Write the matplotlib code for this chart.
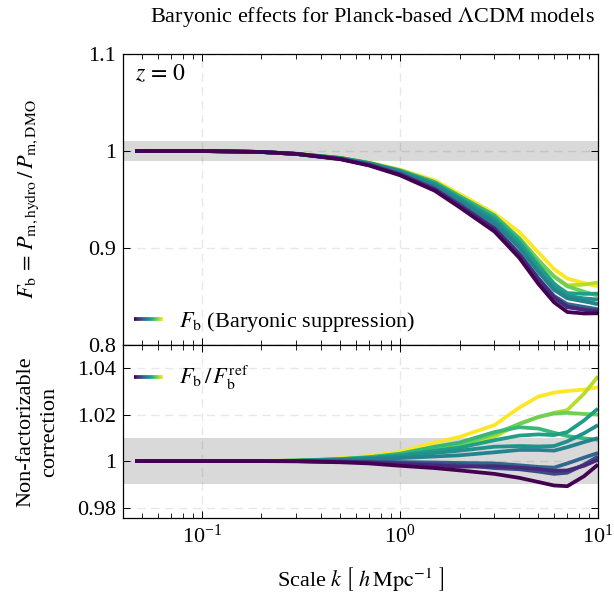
import numpy as np
import matplotlib
matplotlib.use("Agg")
import matplotlib.pyplot as plt
from matplotlib.lines import Line2D
from matplotlib.collections import LineCollection
from matplotlib.legend_handler import HandlerBase
from matplotlib.ticker import FixedLocator, FuncFormatter, NullLocator, LogLocator

plt.rcParams['font.family'] = ['Liberation Serif', 'DejaVu Serif']
plt.rcParams['mathtext.fontset'] = 'stix'

# ---------------- data ----------------
k = [0.046, 0.1, 0.2, 0.3, 0.5, 0.7, 1.0, 1.5, 2.0, 3.0, 4.0, 5.0, 6.0, 7.0, 8.5, 10.0]

# colour positions in viridis for each model
model_c = [0.0, 0.11, 0.22, 0.33, 0.44, 0.5, 0.56, 0.67, 0.78, 0.89, 1.0]

# upper panel: baryonic suppression F_b
fb = [
    [1.000, 1.000, 0.999, 0.997, 0.9915, 0.9850, 0.9750, 0.9590, 0.9420, 0.9170, 0.8900, 0.8630, 0.8440, 0.8340, 0.8325, 0.8327],
    [1.000, 1.000, 0.999, 0.997, 0.9918, 0.9855, 0.9758, 0.9603, 0.9437, 0.9200, 0.8935, 0.8680, 0.8494, 0.8396, 0.8363, 0.8345],
    [1.000, 1.000, 0.999, 0.997, 0.9919, 0.9857, 0.9762, 0.9608, 0.9445, 0.9192, 0.8929, 0.8671, 0.8483, 0.8388, 0.8367, 0.8357],
    [1.000, 1.000, 0.999, 0.997, 0.9920, 0.9858, 0.9766, 0.9614, 0.9452, 0.9211, 0.8944, 0.8688, 0.8506, 0.8422, 0.8393, 0.8369],
    [1.000, 1.000, 0.999, 0.997, 0.9924, 0.9868, 0.9783, 0.9639, 0.9484, 0.9255, 0.9003, 0.8752, 0.8568, 0.8481, 0.8449, 0.8423],
    [1.000, 1.000, 0.999, 0.997, 0.9926, 0.9872, 0.9790, 0.9654, 0.9503, 0.9277, 0.9018, 0.8765, 0.8585, 0.8502, 0.8481, 0.8469],
    [1.000, 1.000, 0.999, 0.997, 0.9928, 0.9874, 0.9794, 0.9663, 0.9515, 0.9303, 0.9059, 0.8810, 0.8626, 0.8535, 0.8527, 0.8529],
    [1.000, 1.000, 0.999, 0.997, 0.9929, 0.9877, 0.9801, 0.9680, 0.9536, 0.9335, 0.9091, 0.8832, 0.8634, 0.8521, 0.8462, 0.8417],
    [1.000, 1.000, 0.999, 0.997, 0.9928, 0.9876, 0.9797, 0.9673, 0.9524, 0.9329, 0.9103, 0.8875, 0.8705, 0.8605, 0.8550, 0.8507],
    [1.000, 1.000, 0.999, 0.997, 0.9928, 0.9875, 0.9794, 0.9663, 0.9515, 0.9317, 0.9103, 0.8875, 0.8708, 0.8615, 0.8623, 0.8644],
    [1.000, 1.000, 0.999, 0.9973, 0.9932, 0.9882, 0.9809, 0.9697, 0.9558, 0.9356, 0.9166, 0.8954, 0.8782, 0.8685, 0.8638, 0.8605],
]

# lower panel: non-factorizable correction F_b / F_b^ref
ratio = [
    [1.0, 1.0, 1.0, 0.9999, 0.9995, 0.9990, 0.9980, 0.9970, 0.9960, 0.9945, 0.9928, 0.9910, 0.9895, 0.9892, 0.9935, 0.9985],
    [1.0, 1.0, 1.0, 1.0000, 0.9997, 0.9994, 0.9988, 0.9982, 0.9976, 0.9978, 0.9972, 0.9966, 0.9958, 0.9960, 0.9980, 1.0006],
    [1.0, 1.0, 1.0, 1.0000, 0.9998, 0.9996, 0.9992, 0.9988, 0.9984, 0.9970, 0.9965, 0.9955, 0.9945, 0.9950, 0.9985, 1.0020],
    [1.0, 1.0, 1.0, 1.0000, 0.9999, 0.9998, 0.9996, 0.9994, 0.9992, 0.9990, 0.9982, 0.9975, 0.9972, 0.9990, 1.0015, 1.0035],
    [1.0, 1.0, 1.0, 1.0001, 1.0004, 1.0008, 1.0013, 1.0020, 1.0025, 1.0038, 1.0048, 1.0048, 1.0045, 1.0060, 1.0082, 1.0099],
    [1.0, 1.0, 1.0, 1.0001, 1.0006, 1.0012, 1.0020, 1.0035, 1.0045, 1.0062, 1.0065, 1.0063, 1.0065, 1.0085, 1.0120, 1.0155],
    [1.0, 1.0, 1.0, 1.0002, 1.0008, 1.0014, 1.0025, 1.0045, 1.0058, 1.0090, 1.0110, 1.0115, 1.0112, 1.0125, 1.0175, 1.0226],
    [1.0, 1.0, 1.0, 1.0002, 1.0009, 1.0017, 1.0032, 1.0062, 1.0080, 1.0125, 1.0146, 1.0140, 1.0122, 1.0108, 1.0098, 1.0092],
    [1.0, 1.0, 1.0, 1.0002, 1.0008, 1.0016, 1.0028, 1.0055, 1.0068, 1.0118, 1.0160, 1.0190, 1.0205, 1.0208, 1.0203, 1.0200],
    [1.0, 1.0, 1.0, 1.0002, 1.0008, 1.0015, 1.0025, 1.0045, 1.0058, 1.0105, 1.0160, 1.0190, 1.0208, 1.0220, 1.0290, 1.0365],
    [1.0, 1.0, 1.0, 1.0003, 1.0012, 1.0022, 1.0040, 1.0080, 1.0104, 1.0155, 1.0230, 1.0278, 1.0295, 1.0302, 1.0308, 1.0318],
]

upper_yticks = [0.8, 0.9, 1.0, 1.1]
lower_yticks = [0.98, 1.0, 1.02, 1.04]

# ---------------- figure ----------------
cmap = plt.get_cmap('viridis')
LW = 2.7
FS = 16

fig = plt.figure(figsize=(6.14, 6.03), dpi=100)
L, R = 123 / 614, 598 / 614
ax1 = fig.add_axes([L, 1 - 345 / 603, R - L, (345 - 54) / 603])
ax2 = fig.add_axes([L, 1 - 518 / 603, R - L, (518 - 345) / 603], sharex=ax1)


class HandlerCmap(HandlerBase):
    def __init__(self, cm, n=40, lw=LW, **kw):
        super().__init__(**kw)
        self.cm, self.n, self.lw = cm, n, lw

    def create_artists(self, legend, orig_handle, xdescent, ydescent, width,
                       height, fontsize, trans):
        x = np.linspace(-xdescent, width - xdescent, self.n + 1)
        y = np.full_like(x, height / 2 - ydescent)
        pts = np.column_stack([x, y]).reshape(-1, 1, 2)
        segs = np.concatenate([pts[:-1], pts[1:]], axis=1)
        lc = LineCollection(segs, cmap=self.cm, linewidth=self.lw, transform=trans)
        lc.set_array(np.linspace(0, 1, self.n))
        return [lc]


for ax in (ax1, ax2):
    ax.set_xscale('log')
    ax.set_xlim(0.04, 10)
    ax.axhspan(0.99, 1.01, color='#d9d9d9', lw=0, zorder=0.5)
    ax.grid(True, which='major', color='k', alpha=0.09, ls=(0, (6, 4)), lw=1.0, zorder=0.8)
    ax.tick_params(which='both', direction='in', top=True, right=True, labelsize=FS)
    ax.tick_params(which='major', length=5, width=0.7, pad=5)
    ax.tick_params(which='minor', length=3.5, width=0.6)
    ax.yaxis.set_minor_locator(NullLocator())
    ax.xaxis.set_minor_locator(LogLocator(base=10, subs=np.arange(2, 10), numticks=20))
    for s in ax.spines.values():
        s.set_linewidth(0.9)

# draw from light to dark so dark curves lie on top
order = list(range(len(model_c)))[::-1]
for i in order:
    col = cmap(model_c[i])
    ax1.plot(k, fb[i], color=col, lw=LW, solid_capstyle='butt', zorder=2)
    ax2.plot(k, ratio[i], color=col, lw=LW, solid_capstyle='butt', zorder=2)

fmt = FuncFormatter(lambda v, p: f"{v:g}")
ax1.set_ylim(0.8, 1.1)
ax1.yaxis.set_major_locator(FixedLocator(upper_yticks))
ax1.yaxis.set_major_formatter(fmt)
ax1.tick_params(axis='x', labelbottom=False)

ax2.set_ylim(0.9755, 1.05)
ax2.yaxis.set_major_locator(FixedLocator(lower_yticks))
ax2.yaxis.set_major_formatter(fmt)

ax1.text(0.025, 0.93, r'$z\, =\, 0$', transform=ax1.transAxes, fontsize=FS + 1,
         ha='left', va='center')

p1 = Line2D([], [])
leg1 = ax1.legend([p1], [r'$F_\mathrm{b}$ (Baryonic suppression)'],
                  handler_map={p1: HandlerCmap(cmap)}, loc='lower left',
                  frameon=False, fontsize=FS, handlelength=1.3, handletextpad=0.7,
                  borderaxespad=0.2, borderpad=0.3)
p2 = Line2D([], [])
leg2 = ax2.legend([p2], [r'$F_\mathrm{b}\,/\,F_\mathrm{b}^\mathrm{ref}$'],
                  handler_map={p2: HandlerCmap(cmap)}, loc='upper left',
                  bbox_to_anchor=(0.0, 0.955),
                  frameon=False, fontsize=FS, handlelength=1.3, handletextpad=0.7,
                  borderaxespad=0.2, borderpad=0.3)

ax1.set_ylabel(r'$F_\mathrm{b}\, =\, P_\mathrm{m,hydro}\,/\,P_\mathrm{m,DMO}$', fontsize=FS)
ax1.yaxis.set_label_coords(-0.172, 0.5)
ax2.set_ylabel('Non-factorizable\ncorrection', fontsize=FS, linespacing=1.3)
ax2.yaxis.set_label_coords(-0.135, 0.5)
ax2.set_xlabel(r'Scale $k\ \left[\ h\,\mathrm{Mpc}^{-1}\ \right]$', fontsize=FS, labelpad=12)

fig.text(0.607, 0.972, r'Baryonic effects for Planck-based $\Lambda$CDM models',
         ha='center', va='center', fontsize=FS)

fig.savefig('out.png', dpi=100)
